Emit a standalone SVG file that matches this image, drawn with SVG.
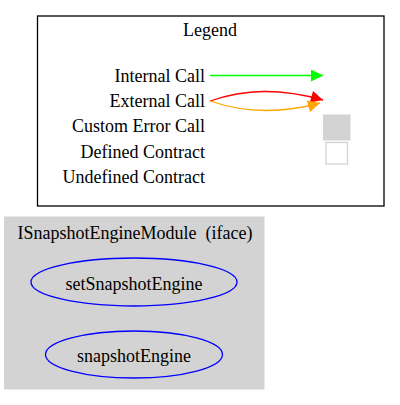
<svg xmlns="http://www.w3.org/2000/svg" width="400" height="405" viewBox="0 0 400 405">
<style>
text{font-family:"Liberation Serif","Times New Roman",serif;font-size:18px;fill:#000}
.r{text-anchor:end}
.m{text-anchor:middle}
.fn{fill:none;stroke:#0000ff;stroke-width:1.3}
</style>
<defs>
<marker id="ag" viewBox="0 0 10 10" refX="10" refY="5" markerWidth="15" markerHeight="12" markerUnits="userSpaceOnUse" orient="auto"><path d="M0,0L10,5L0,10Z" fill="#00ff00"/></marker>
<marker id="ar" viewBox="0 0 10 10" refX="10" refY="5" markerWidth="15" markerHeight="12" markerUnits="userSpaceOnUse" orient="auto"><path d="M0,0L10,5L0,10Z" fill="#ff0000"/></marker>
<marker id="ao" viewBox="0 0 10 10" refX="10" refY="5" markerWidth="15" markerHeight="12" markerUnits="userSpaceOnUse" orient="auto"><path d="M0,0L10,5L0,10Z" fill="#ffa500"/></marker>
</defs>
<g id="legend">
<rect x="37.5" y="16" width="346.5" height="190" fill="#fff" stroke="#000" stroke-width="1.3"/>
<text class="m" x="210" y="36">Legend</text>
<text class="r" x="205" y="81.5">Internal Call</text>
<text class="r" x="205" y="107">External Call</text>
<text class="r" x="205" y="132">Custom Error Call</text>
<text class="r" x="205" y="157.5">Defined Contract</text>
<text class="r" x="205" y="182.5">Undefined Contract</text>
<rect x="323.5" y="115" width="26.5" height="25" fill="#d3d3d3" stroke="#d3d3d3"/>
<rect x="326" y="142.5" width="21.5" height="21.5" fill="#fff" stroke="#d3d3d3" stroke-width="1.3"/>
</g>
<g id="connectors">
<path d="M210,75.5L323,75.5" fill="none" stroke="#00ff00" stroke-width="1.3" marker-end="url(#ag)"/>
<path d="M210,101C245,89 280,88 323,100" fill="none" stroke="#ff0000" stroke-width="1.3" marker-end="url(#ar)"/>
<path d="M210,101C245,113 280,114 320,103" fill="none" stroke="#ffa500" stroke-width="1.3" marker-end="url(#ao)"/>
</g>
<g id="cluster_ISnapshotEngineModule">
<rect x="4.5" y="217" width="259.5" height="172" fill="#d3d3d3" stroke="#d3d3d3"/>
<text class="m" x="135" y="238.5" xml:space="preserve">ISnapshotEngineModule  (iface)</text>
</g>
<g id="setSnapshotEngine">
<ellipse class="fn" cx="134" cy="282" rx="103" ry="24"/>
<text class="m" x="134" y="289.5">setSnapshotEngine</text>
</g>
<g id="snapshotEngine">
<ellipse class="fn" cx="134" cy="354.5" rx="88.5" ry="23.5"/>
<text class="m" x="134" y="362">snapshotEngine</text>
</g>
</svg>
